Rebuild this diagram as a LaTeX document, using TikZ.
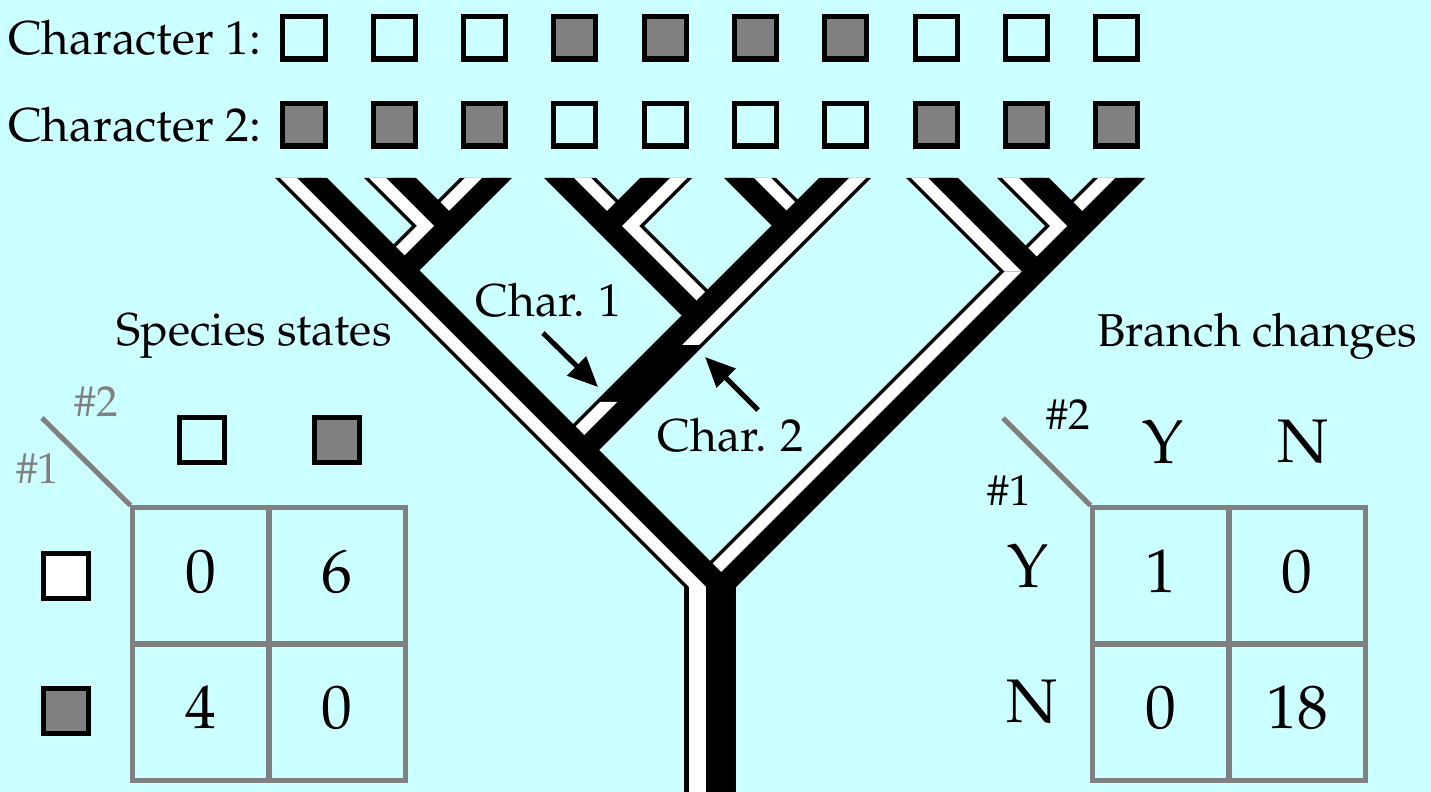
\documentclass[tikz,border=0pt]{standalone}
\usepackage[T1]{fontenc}
\usepackage{mathpazo}
\usetikzlibrary{calc,arrows.meta}

\definecolor{sky}{HTML}{CCFFFF}
\definecolor{midgray}{HTML}{808080}

\begin{document}
\begin{tikzpicture}[x=0.01cm,y=-0.01cm,inner sep=0pt]
    \tikzstyle{statebox} = [
      rectangle,
      draw=black,
      line width=0.05cm,
      minimum size=0.42cm,
    ]
    \tikzstyle{cell} = [
      rectangle,
      draw=midgray,
      line width=0.05cm,
      minimum size=1.36cm,
      text height=0.43cm,
      text depth=0.1cm,
      font=\fontsize{17.5}{20}\selectfont,
    ]
    \tikzstyle{grid} = [draw=midgray, line width=0.05cm]
    \tikzstyle{pointer} = [
      line width=0.05cm,
      -{Triangle[length=0.3cm,width=0.26cm]},
      draw=black,
    ]
    \tikzstyle{rowlabel} = [font=\fontsize{13.5}{16}\selectfont]
    \tikzstyle{heading} = [font=\fontsize{13.1}{16}\selectfont]
    \tikzstyle{big} = [font=\fontsize{17.5}{20}\selectfont]
    \tikzstyle{corner} = [font=\fontsize{12.3}{14}\selectfont]

    % a band of the tree, cut level at both ends: offsets are horizontal
    \newcommand{\cstrip}[5]{\fill[#1] ($(#4)+(#2,0)$) -- ($(#5)+(#2,0)$) -- ($(#5)+(#3,0)$) -- ($(#4)+(#3,0)$) -- cycle;}
    \newcommand{\lineage}[4]{\cstrip{black}{-26}{26}{#1}{#2}\cstrip{#3}{-21}{-4}{#1}{#2}\cstrip{#4}{4}{21}{#1}{#2}}

    \useasboundingbox (0,0) rectangle (1431,792);
    \fill[sky] (0,0) rectangle (1431,792);

    % tips
    \coordinate (tip1) at (301,178);
    \coordinate (tip2) at (390,178);
    \coordinate (tip3) at (486,178);
    \coordinate (tip4) at (570,178);
    \coordinate (tip5) at (666,178);
    \coordinate (tip6) at (750,178);
    \coordinate (tip7) at (845,178);
    \coordinate (tip8) at (932,178);
    \coordinate (tip9) at (1023,178);
    \coordinate (tip10) at (1119,178);
    % forks
    \coordinate (n23) at (438,226);
    \coordinate (n13) at (393.5,270.5);
    \coordinate (n45) at (618,226);
    \coordinate (n67) at (797.5,225.5);
    \coordinate (n47) at (707.5,315.5);
    \coordinate (n17) at (573,450);
    \coordinate (n910) at (1071,226);
    \coordinate (n810) at (1025.5,271.5);
    \coordinate (root) at (710,587);
    \coordinate (base) at (710,800);
    % where the two characters change
    \coordinate (chg1) at (621,402);
    \coordinate (chg2) at (678,345);

    % right clade
    \lineage{root}{tip10}{white}{black}
    \lineage{n910}{tip9}{white}{black}
    \lineage{n810}{tip8}{white}{black}
    % middle clade
    \lineage{n47}{tip4}{black}{white}
    \lineage{n45}{tip5}{black}{white}
    \lineage{n67}{tip6}{black}{white}
    \cstrip{black}{-26}{26}{n17}{tip7}
    \cstrip{white}{4}{21}{chg2}{tip7}
    \cstrip{white}{-21}{-4}{n17}{chg1}
    % left clade
    \lineage{n13}{tip3}{white}{black}
    \lineage{n23}{tip2}{white}{black}
    \lineage{root}{tip1}{white}{black}
    \lineage{base}{root}{white}{black}

    % character states at the tips
    \node[rowlabel,anchor=east] (char1) at (262,38) {Character 1:};
    \node[rowlabel,anchor=east] (char2) at (262,125) {Character 2:};
    \foreach \c [count=\i] in {sky,sky,sky,midgray,midgray,midgray,midgray,sky,sky,sky}
      \node[statebox,fill=\c] (first\i) at ({304+90.3*(\i-1)},38) {};
    \foreach \c [count=\i] in {midgray,midgray,midgray,sky,sky,sky,sky,midgray,midgray,midgray}
      \node[statebox,fill=\c] (second\i) at ({304+90.3*(\i-1)},125) {};

    % changes on the stem
    \node[heading] (lab1) at (549,300) {Char. 1};
    \node[heading] (lab2) at (731,435) {Char. 2};
    \coordinate (tail1) at (543,333);
    \coordinate (hit1) at (598,387);
    \coordinate (tail2) at (758,410);
    \coordinate (hit2) at (705,357);
    \draw[pointer] (tail1) -- (hit1);
    \draw[pointer] (tail2) -- (hit2);

    % species states
    \node[heading] (spst) at (254,336) {Species states};
    \node[cell] (sp11) at (201,576) {0};
    \node[cell] (sp12) at (337,576) {6};
    \node[cell] (sp21) at (201,712) {4};
    \node[cell] (sp22) at (337,712) {0};
    \node[statebox,minimum size=0.45cm,fill=sky] (spc1) at (202,440) {};
    \node[statebox,minimum size=0.45cm,fill=midgray] (spc2) at (337,440) {};
    \node[statebox,minimum size=0.45cm,fill=white] (spr1) at (66,576) {};
    \node[statebox,minimum size=0.45cm,fill=midgray] (spr2) at (66,711) {};
    \coordinate (spcorner) at (42,418);
    \draw[grid] (sp11.north west) -- (spcorner);
    \node[corner,text=midgray] (sph2) at (96,402) {\#2};
    \node[corner,text=midgray] (sph1) at (38,469) {\#1};

    % branch changes
    \node[heading] (brch) at (1257,336) {Branch changes};
    \node[cell] (bc11) at (1161,576) {1};
    \node[cell] (bc12) at (1297,576) {0};
    \node[cell] (bc21) at (1161,712) {0};
    \node[cell] (bc22) at (1297,712) {18};
    \node[big] (bcc1) at (1163,442) {Y};
    \node[big] (bcc2) at (1303,442) {N};
    \node[big] (bcr1) at (1028,566) {Y};
    \node[big] (bcr2) at (1032,702) {N};
    \coordinate (bccorner) at (1003,418);
    \draw[grid] (bc11.north west) -- (bccorner);
    \node[corner] (bch2) at (1068,415) {\#2};
    \node[corner] (bch1) at (1009,491) {\#1};
\end{tikzpicture}
\end{document}
